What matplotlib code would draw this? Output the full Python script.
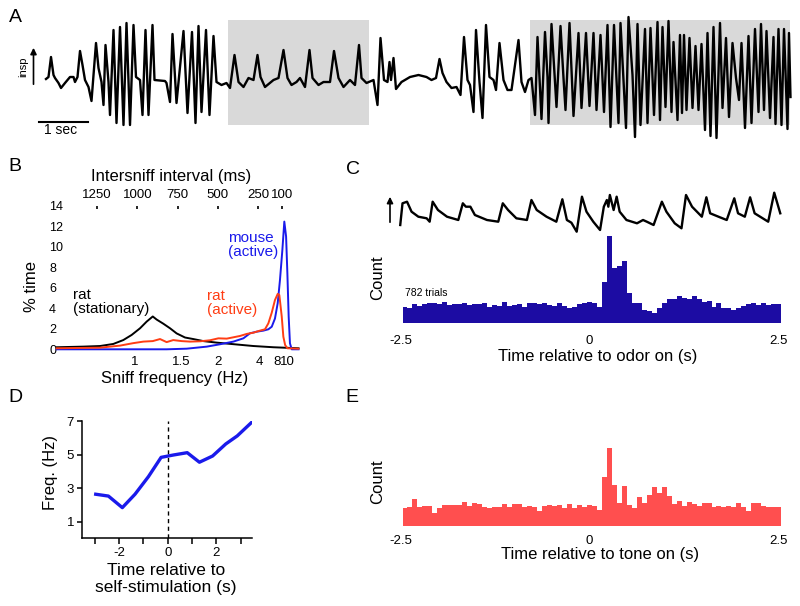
import matplotlib
matplotlib.use('Agg')
import matplotlib.pyplot as plt
import numpy as np
from matplotlib.patches import Rectangle

plt.rcParams['font.family'] = ['Liberation Sans', 'DejaVu Sans']

# ---------------- DATA ----------------
# Panel A: respiration trace (time in s, amplitude arbitrary units)
trace_a_t = [0.02, 0.07, 0.12, 0.17, 0.20, 0.27, 0.32, 0.40, 0.50, 0.57, 0.60, 0.65, 0.70, 0.75, 0.80, 0.87,
             0.93, 1.02, 1.07, 1.13, 1.17, 1.21, 1.27, 1.30, 1.37, 1.43, 1.50, 1.57, 1.63, 1.70, 1.77, 1.82,
             1.90, 1.95, 2.01, 2.07, 2.15, 2.19, 2.40, 2.43, 2.50, 2.55, 2.63, 2.77, 2.85, 2.94, 3.01, 3.07,
             3.13, 3.22, 3.29, 3.37, 3.43, 3.53, 3.63, 3.70, 3.79, 3.87, 3.97, 4.07, 4.17, 4.25, 4.31, 4.40,
             4.57, 4.67, 4.77, 4.85, 4.93, 5.03, 5.10, 5.20, 5.29, 5.35, 5.47, 5.57, 5.70, 5.78, 5.87, 5.97,
             6.10, 6.20, 6.28, 6.33, 6.43, 6.57, 6.65, 6.71, 6.78, 6.85, 6.89, 6.92, 6.97, 7.02, 7.13, 7.30,
             7.47, 7.63, 7.73, 7.82, 7.89, 7.95, 8.03, 8.13, 8.23, 8.31, 8.38, 8.45, 8.50, 8.57, 8.62, 8.69,
             8.75, 8.82, 8.89, 8.97, 9.02, 9.09, 9.17, 9.25, 9.33, 9.47, 9.53, 9.60, 9.67, 9.73, 9.80, 9.85,
             9.89, 9.93, 10.00, 10.05, 10.07, 10.13, 10.23, 10.31, 10.37, 10.41, 10.49, 10.57, 10.67, 10.73,
             10.82, 10.89, 10.97, 11.03, 11.11, 11.18, 11.25, 11.31, 11.38, 11.47, 11.51, 11.62, 11.67, 11.75,
             11.80, 11.85, 11.91, 12.00, 12.05, 12.11, 12.18, 12.25, 12.30, 12.35, 12.41, 12.47, 12.53, 12.57,
             12.65, 12.70, 12.74, 12.78, 12.83, 12.89, 12.95, 13.01, 13.07, 13.13, 13.20, 13.25, 13.31, 13.37,
             13.43, 13.50, 13.55, 13.62, 13.68, 13.75, 13.82, 13.88, 13.93, 14.00, 14.07, 14.13, 14.20, 14.27,
             14.32, 14.38, 14.43, 14.50, 14.57, 14.61, 14.67, 14.73, 14.78, 14.85, 14.88, 14.91]
trace_a_amp = [0.1, 0.3, 2.3, 0.5, 0.2, -0.3, -0.8, -0.3, 0.3, 0.3, -0.2, 0.3, 2.9, 1.5, 0.0, -0.7,
               -2.1, 3.7, 1.2, -0.2, -2.5, 3.5, -0.2, -3.5, 5.0, -4.3, 5.3, -4.5, 5.7, -4.5, 5.5, 0.3,
               0.0, -3.5, 5.0, -3.5, 5.5, 0.0, -0.1, -0.3, -2.2, 4.6, -2.3, 4.9, -3.3, 4.8, -4.3, 5.4,
               -3.2, 5.0, -3.5, 4.4, -0.2, -0.5, -0.3, -0.8, 2.5, -0.2, -0.7, 0.2, 0.0, 2.5, 0.3, -0.7,
               0.0, 0.2, 3.0, 0.2, -0.5, -0.2, 0.2, -0.7, 3.0, 0.2, -0.5, -0.2, -0.2, 2.9, 0.2, -0.7,
               0.0, -0.5, 3.5, 0.2, -0.3, 0.0, -2.5, 4.2, 0.0, -0.2, 1.8, 0.0, 2.2, -0.9, -0.2, 0.3,
               0.5, 0.3, 0.0, 0.2, 2.1, 0.7, -0.2, -0.8, -0.7, -1.5, 4.3, 0.0, -0.5, -3.2, 5.0, -0.2,
               -3.8, 5.5, 0.3, 0.0, -1.0, 3.7, 0.0, -1.0, -1.0, 4.0, -0.2, -1.2, 0.0, 0.2, -3.5, 4.3,
               0.3, -3.9, 4.8, 0.3, -4.3, 5.6, -2.7, 5.4, 0.2, -3.0, 5.7, -3.6, 4.7, -2.8,
               4.7, -2.6, 4.7, -3.0, 4.5, -3.2, 5.5, -4.7, 5.5, -4.3, 5.7, -4.8, 6.3, 0.5,
               -5.7, 5.6, -4.5, 5.1, -4.3, 5.2, -3.5, 5.8, -4.0, 5.3, -2.7, 5.9, -3.2, 3.8,
               -4.0, 4.5, -3.3, 4.5, -3.0, 4.2, -2.8, 3.4, -3.0, 3.6, -5.0, 4.7, -5.6, 5.3,
               -5.8, 5.7, -2.8, 4.2, -3.7, 3.7, 0.2, -2.0, 3.7, -4.8, 4.4, -4.3, 5.1, -3.2,
               5.6, -3.0, 4.9, -3.8, 4.3, -4.4, 5.1, -4.5, 5.1, -4.9, 4.7, -1.7]
shaded_windows = [(3.66, 6.48), (9.70, 14.90)]   # seconds

# Panel B: % time vs intersniff interval (ms)
stat_interval = [1500, 1335, 1231, 1149, 1087, 1035, 983, 942, 904, 880, 839, 797, 756, 704, 653, 590,
                 507, 404, 280, 156, 0]
stat_pct = [0.2, 0.26, 0.32, 0.52, 0.9, 1.4, 2.05, 2.7, 3.2, 2.9, 2.5, 2.05, 1.55, 1.15, 1.0, 0.8,
            0.65, 0.5, 0.32, 0.2, 0.1]
ratact_interval = [1500, 1231, 1107, 1025, 962, 904, 859, 818, 777, 725, 673, 611, 549, 497, 445, 404,
                   363, 321, 280, 239, 208, 187, 166, 146, 129, 119, 104, 94, 83, 69, 0]
ratact_pct = [0.1, 0.16, 0.36, 0.6, 0.75, 0.8, 1.0, 0.7, 0.9, 0.8, 0.75, 0.78, 0.88, 1.07, 1.04, 1.17,
              1.3, 1.5, 1.62, 1.82, 1.95, 2.53, 3.57, 4.8, 5.4, 5.3, 3.2, 1.23, 0.42, 0.1, 0.06]
mouse_interval = [1500, 818, 694, 569, 487, 404, 342, 301, 259, 218, 187, 166, 146, 129, 115, 100,
                  88, 77, 69, 61, 53, 42, 0]
mouse_pct = [0.0, 0.0, 0.06, 0.26, 0.49, 0.75, 1.07, 1.56, 1.72, 1.82, 1.95, 2.2, 3.0, 4.5, 6.75, 9.7,
             12.45, 11.0, 7.4, 3.2, 0.58, 0.0, 0.0]
interval_ticks = [1250, 1000, 750, 500, 250, 100]
freq_tick_labels = ['1', '1.5', '2', '4', '8', '10']
freq_tick_pos_ms = [1019, 729, 497, 243, 135, 69]
pct_ticks = [0, 2, 4, 6, 8, 10, 12, 14]

# Panel C: sniff trace around odor onset
trace_c_t = [-2.51, -2.48, -2.42, -2.36, -2.27, -2.16, -2.12, -2.08, -2.01, -1.89, -1.74, -1.68, -1.64,
             -1.58, -1.52, -1.36, -1.21, -1.15, -1.08, -0.97, -0.83, -0.77, -0.70, -0.57, -0.44, -0.36,
             -0.30, -0.24, -0.17, -0.10, -0.04, 0.05, 0.14, 0.19, 0.23, 0.25, 0.27, 0.32, 0.36, 0.40,
             0.49, 0.63, 0.71, 0.76, 0.85, 0.96, 1.02, 1.13, 1.22, 1.28, 1.36, 1.49, 1.55, 1.60, 1.73,
             1.82, 1.92, 1.97, 2.06, 2.13, 2.19, 2.37, 2.45, 2.53]
trace_c_amp = [-2.0, 2.34, 2.66, 0.66, -0.34, -0.66, -1.34, 2.66, 1.0, -0.34, -1.0, 2.34, 1.66,
               1.66, 0.0, -1.0, -1.34, 2.34, 1.0, -0.66, -1.0, 3.0, 1.0, -0.34, -1.34, 3.14,
               -1.0, -1.54, -3.34, 3.66, 0.66, -1.34, -3.0, 1.66, 3.0, 1.66, 4.0, 1.0, 3.66, 0.66,
               -1.0, -1.66, -1.0, -1.34, -2.0, 2.66, 0.66, -1.66, -2.66, 4.0, 1.66, -0.34, 3.54, 0.34,
               -0.46, -1.0, 3.34, 0.34, -0.34, 3.54, 0.34, -1.34, 4.46, 0.34]

# Histograms (76 bins starting at -2.48 s)
hist_start = -2.48
hist_bin = 0.0661
odor_counts = [16, 14.3, 18.7, 17, 18.7, 19.3, 20, 18.7, 20.3, 17.7, 18.7, 18.7, 19.3, 17.7, 18.7, 18.7,
               19.3, 15.3, 17.7, 16.7, 21, 17, 17.7, 18.7, 15.3, 20, 19.3, 18.7, 20, 17.7, 17, 20,
               16.7, 14.3, 16, 18.3, 19.3, 21, 19.3, 16, 40.3, 87, 55, 56.7, 62, 29.3, 19.3, 19.3,
               12.7, 12, 9.3, 14.3, 19.3, 23.7, 23.3, 26.7, 24.3, 23.3, 26.7, 23.3, 21, 21.7, 16, 20,
               14.3, 14.3, 12.7, 15, 16.7, 18.7, 19.3, 17.7, 19.3, 17.7, 18.7, 18.3]
tone_counts = [17.7, 18.7, 27, 18.7, 20, 20.3, 12.7, 17.7, 21, 21, 21, 21, 23.7, 20, 23.3, 22,
               19.3, 17.7, 18.7, 18.7, 21.7, 19.3, 22, 22, 18.7, 20, 18.7, 15.3, 20, 21, 20, 21,
               17.7, 22, 17.7, 21, 19.3, 21, 20.3, 16, 48.7, 77.7, 41, 23.3, 40, 21, 17.7, 28.7,
               23.3, 31, 38.7, 32.7, 38.7, 30, 22, 25.3, 20, 24.3, 21.7, 20, 23.3, 22.7, 19.3, 20,
               19.3, 20, 18.7, 22.7, 19.3, 15.3, 22.7, 22.7, 20, 19.3, 18.7, 19.3]
hist_ticks = [-2.5, 0, 2.5]

# Panel D: sniff frequency around self-stimulation
selfstim_t = [-2.95, -2.43, -1.86, -1.34, -0.79, -0.27, 0.23, 0.80, 1.30, 1.84, 2.38, 2.85, 3.47]
selfstim_freq = [2.63, 2.52, 1.83, 2.63, 3.68, 4.83, 4.97, 5.11, 4.54, 4.91, 5.63, 6.11, 6.96]

# ---------------- FIGURE ----------------
W, H = 800, 606
fig = plt.figure(figsize=(8, 6.06), dpi=100)


def px_axes(x0, y0, x1, y1):
    return fig.add_axes([x0 / W, 1 - y1 / H, (x1 - x0) / W, (y1 - y0) / H])


def ftext(x, y, s, **kw):
    kw.setdefault('ha', 'center')
    kw.setdefault('va', 'center')
    fig.text(x / W, 1 - y / H, s, **kw)


BLUE = '#1a1aeb'
ORANGE = '#ff3d14'
NAVY = '#1c0ca3'
SALMON = '#ff4f4f'
LAB = 12
TICK = 9.5

# Panel letters
for letter, (x, y) in zip('ABCDE', [(15, 17), (15, 167), (353, 170), (15, 397), (352, 397)]):
    ftext(x, y, letter, fontsize=14)

# ---------- Panel A ----------
axA = px_axes(0, 0, 800, 150)
axA.set_xlim(-0.9, 15.1)
axA.set_ylim(-7, 8)
axA.axis('off')
for (t0, t1) in shaded_windows:
    axA.add_patch(Rectangle((t0, -4.5), t1 - t0, 10.5, facecolor='#d9d9d9', edgecolor='none', zorder=0))
axA.plot(trace_a_t, trace_a_amp, color='black', lw=1.7, solid_joinstyle='round', zorder=2)
axA.plot([-0.13, 0.85], [-4.17, -4.17], color='black', lw=1.5)
axA.text(0.31, -5.05, '1 sec', ha='center', va='center', fontsize=10)
axA.annotate('', xy=(-0.23, 3.5), xytext=(-0.23, -0.7),
             arrowprops=dict(arrowstyle='-|>', color='black', lw=1.2, mutation_scale=9))
axA.text(-0.43, 1.33, 'insp', rotation=90, ha='center', va='center', fontsize=8)

# ---------- Panel B ----------
axB = px_axes(56.7, 205.7, 298.5, 349.3)
axB.set_xlim(1500, 0)
axB.set_ylim(0, 14)
for s in axB.spines.values():
    s.set_visible(False)
axB.plot(stat_interval, stat_pct, color='black', lw=1.4, clip_on=False)
axB.plot(mouse_interval, mouse_pct, color=BLUE, lw=1.4, clip_on=False)
axB.plot(ratact_interval, ratact_pct, color=ORANGE, lw=1.4, clip_on=False)
axB.set_yticks(pct_ticks)
axB.set_yticklabels([str(v) for v in pct_ticks])
for lab in axB.get_yticklabels():
    lab.set_ha('left')
axB.tick_params(axis='y', length=0, pad=5.5, labelsize=9)
axB.set_xticks(freq_tick_pos_ms)
axB.set_xticklabels(freq_tick_labels)
axB.tick_params(axis='x', length=0, pad=4.5, labelsize=TICK)
axBt = axB.twiny()
axBt.set_xlim(1500, 0)
for s in axBt.spines.values():
    s.set_visible(False)
axBt.set_xticks(interval_ticks)
axBt.set_xticklabels([str(v) for v in interval_ticks])
axBt.tick_params(axis='x', direction='in', length=2.2, width=1.2, pad=3.5, labelsize=TICK)
ftext(171, 177, 'Intersniff interval (ms)', fontsize=LAB)
ftext(175, 378, 'Sniff frequency (Hz)', fontsize=LAB)
ftext(31, 287, '% time', fontsize=LAB, rotation=90)
ftext(228, 245, 'mouse\n(active)', fontsize=11, color=BLUE, ha='left', linespacing=1.05)
ftext(72.7, 302, 'rat\n(stationary)', fontsize=11, color='black', ha='left', linespacing=1.05)
ftext(206.7, 303, 'rat\n(active)', fontsize=11, color=ORANGE, ha='left', linespacing=1.05)

# ---------- Panel C ----------
def t_of(xpx):
    return (xpx - 589.5) / 75.4

axCt = px_axes(380, 185, 790, 240)
axCt.set_xlim(t_of(380), t_of(790))
axCt.set_ylim(-5, 6)
axCt.axis('off')
axCt.plot(trace_c_t, trace_c_amp, color='black', lw=1.7, solid_joinstyle='round')
axCt.annotate('', xy=(t_of(390), 4.2), xytext=(t_of(390), -2.0),
              arrowprops=dict(arrowstyle='-|>', color='black', lw=1.2, mutation_scale=9))

edges = hist_start + np.arange(len(odor_counts) + 1) * hist_bin

axCh = px_axes(380, 232.7, 790, 322.7)
axCh.set_xlim(t_of(380), t_of(790))
axCh.set_ylim(0, 90)
axCh.stairs(odor_counts, edges, fill=True, color=NAVY)
for s in axCh.spines.values():
    s.set_visible(False)
axCh.set_yticks([])
axCh.set_xticks(hist_ticks)
axCh.set_xticklabels(['-2.5', '0', '2.5'])
axCh.tick_params(axis='x', length=0, pad=8.5, labelsize=TICK)
axCh.text(t_of(405), 30, '782 trials', ha='left', va='center', fontsize=7.5)
ftext(598, 357, 'Time relative to odor on (s)', fontsize=LAB)
ftext(378, 278, 'Count', fontsize=LAB, rotation=90)

# ---------- Panel E ----------
axE = px_axes(380, 440, 790, 526)
axE.set_xlim(t_of(380), t_of(790))
axE.set_ylim(0, 86)
axE.stairs(tone_counts, edges, fill=True, color=SALMON)
for s in axE.spines.values():
    s.set_visible(False)
axE.set_yticks([])
axE.set_xticks(hist_ticks)
axE.set_xticklabels(['-2.5', '0', '2.5'])
axE.tick_params(axis='x', length=0, pad=6.5, labelsize=TICK)
ftext(600, 555, 'Time relative to tone on (s)', fontsize=LAB)
ftext(378, 482, 'Count', fontsize=LAB, rotation=90)

# ---------- Panel D ----------
axD = px_axes(81.7, 420.5, 251.7, 538.3)
axD.set_xlim(-3.525, 3.443)
axD.set_ylim(0, 7.03)
axD.spines['top'].set_visible(False)
axD.spines['right'].set_visible(False)
for s in ('left', 'bottom'):
    axD.spines[s].set_linewidth(1.1)
axD.axvline(0, color='black', lw=1.0, ls=(0, (3, 2.5)))
axD.plot(selfstim_t, selfstim_freq, color=BLUE, lw=2.4, solid_joinstyle='round')
axD.set_xticks([-3, -2, -1, 0, 1, 2, 3])
axD.set_xticklabels(['', '-2', '', '0', '', '2', ''])
axD.set_yticks([1, 3, 5, 7])
axD.set_yticklabels(['1', '3', '5', '7'])
axD.tick_params(axis='both', direction='out', width=1.1, labelsize=TICK)
axD.tick_params(axis='x', length=4.5, pad=2)
axD.tick_params(axis='y', length=3.5, pad=2)
ftext(50, 473, 'Freq. (Hz)', fontsize=LAB, rotation=90)
ftext(166, 579, 'Time relative to\nself-stimulation (s)', fontsize=12.5, linespacing=1.2)

fig.savefig('out.png', dpi=100)
